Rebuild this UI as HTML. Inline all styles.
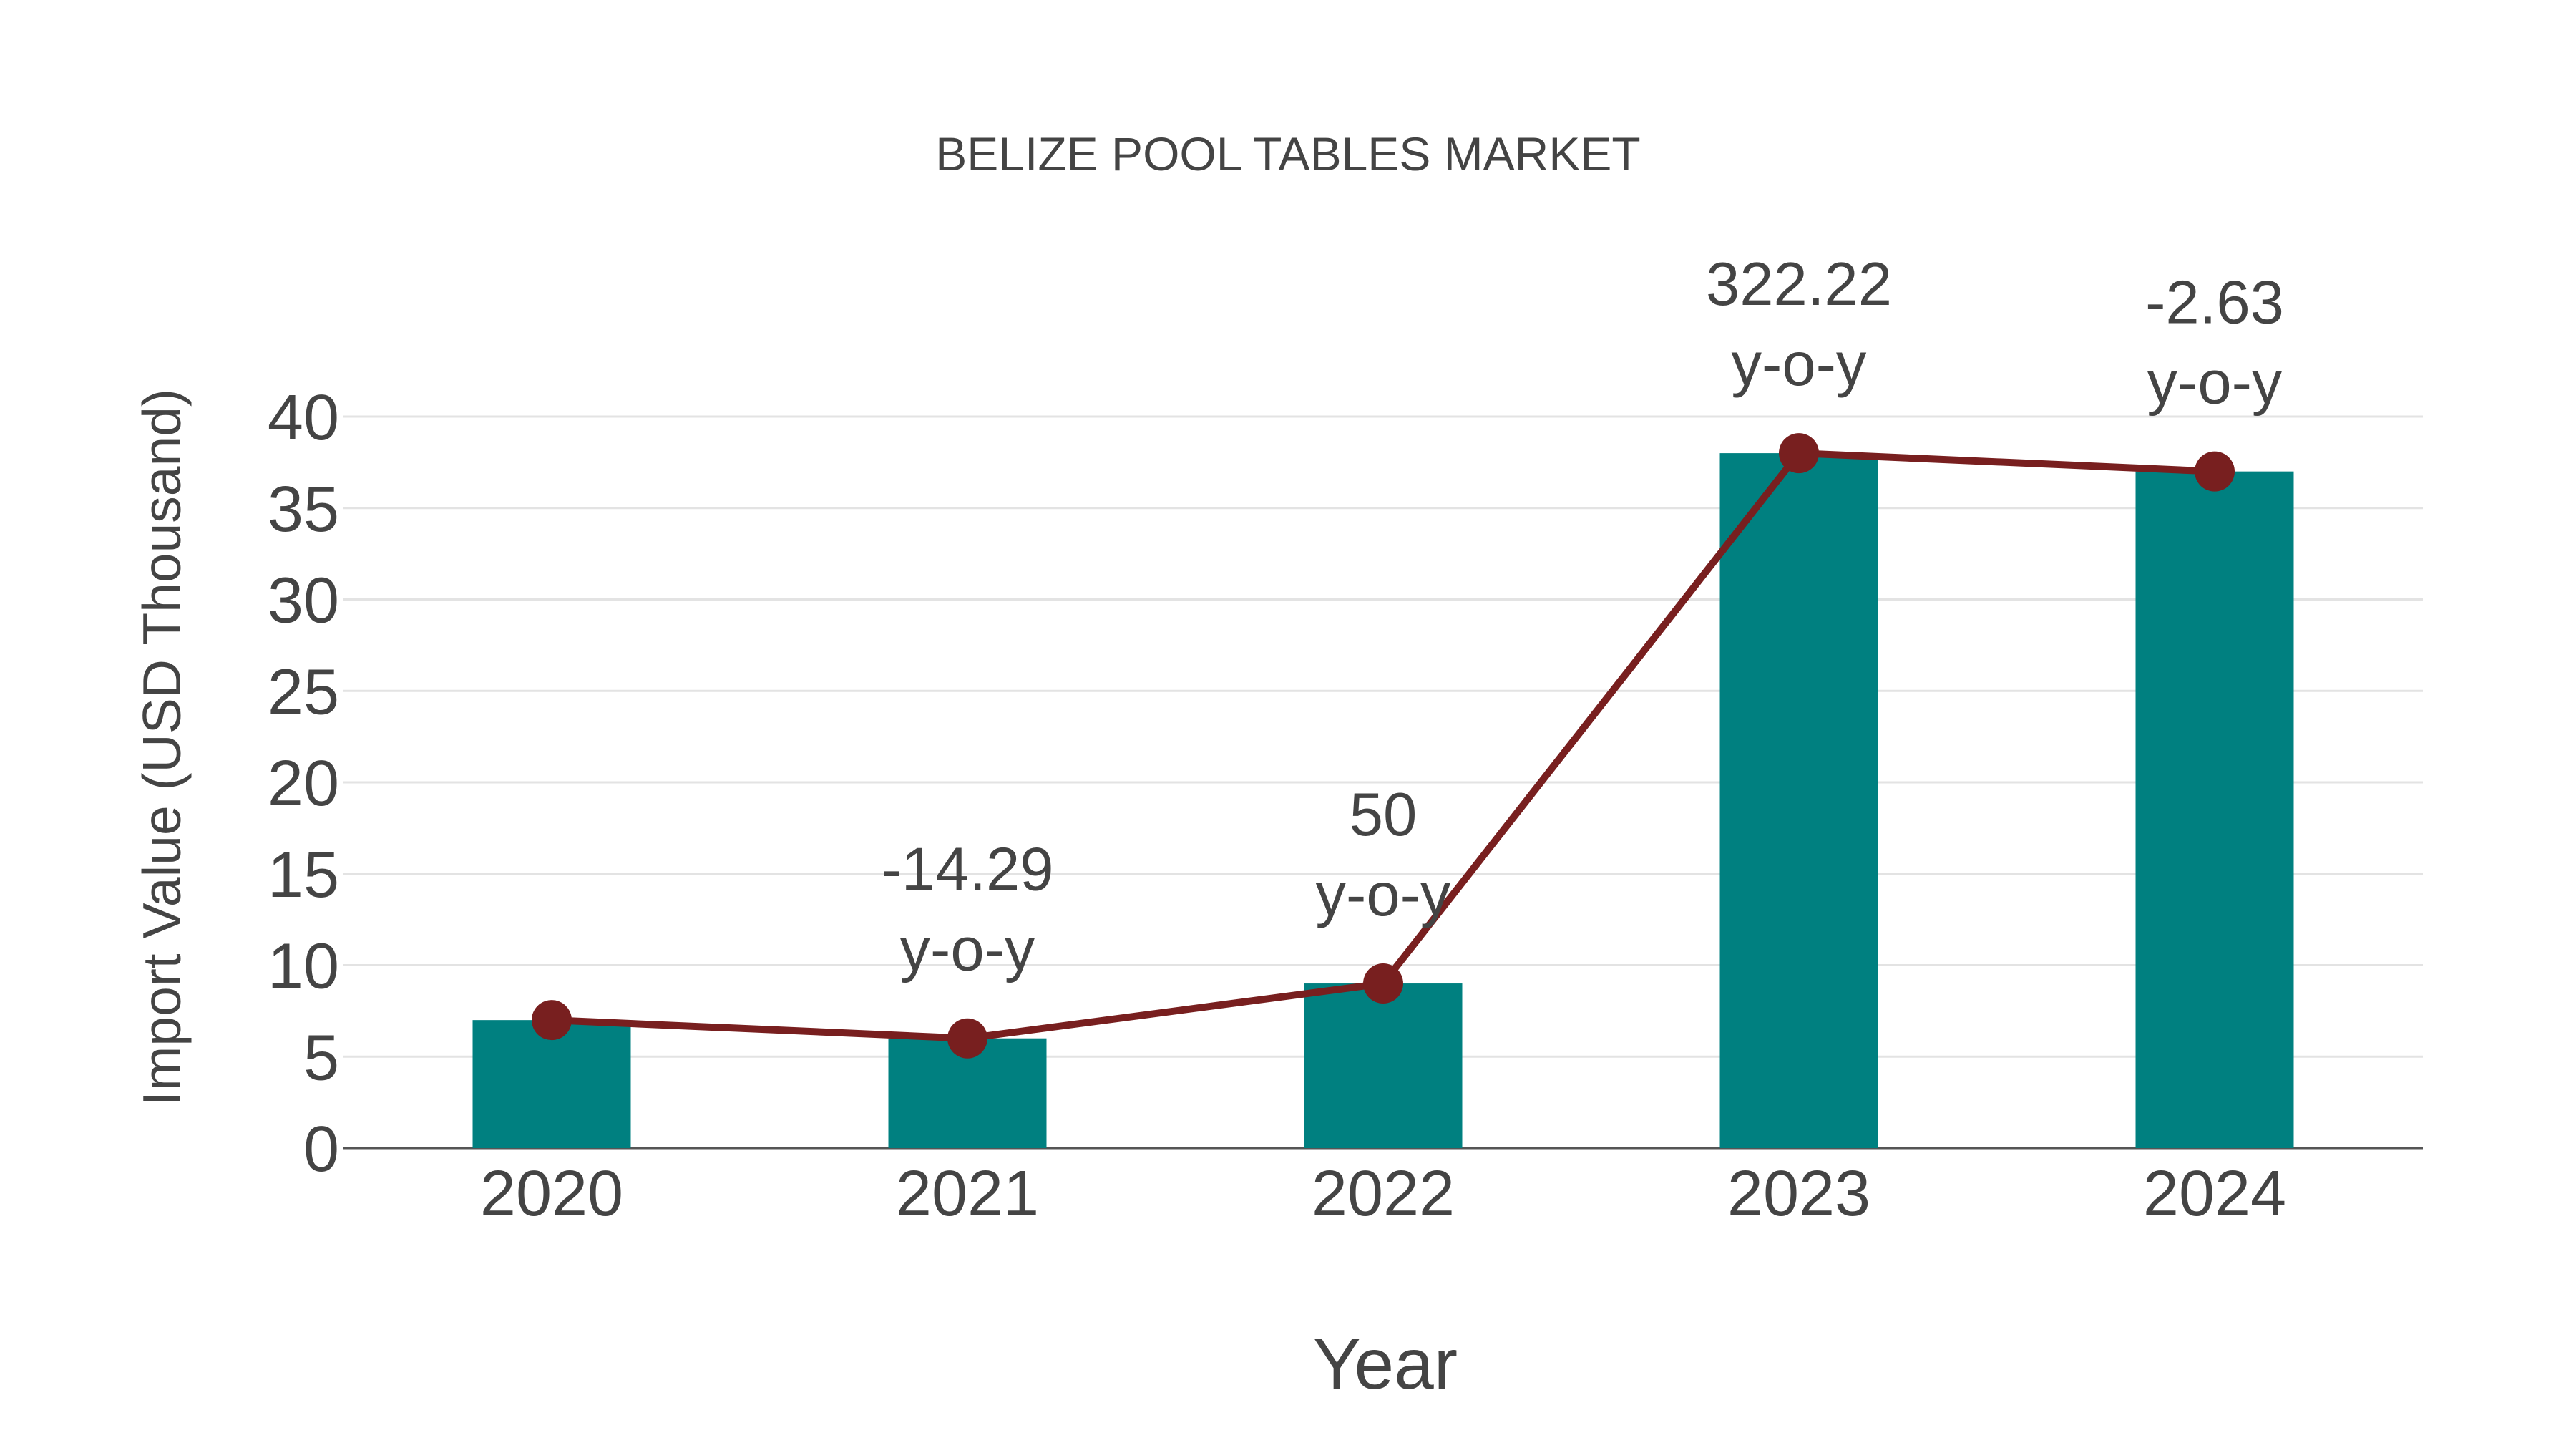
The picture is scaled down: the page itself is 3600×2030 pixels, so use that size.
<!DOCTYPE html>
<html><head><meta charset="utf-8"><style>
html,body{margin:0;padding:0;background:#fff;}
svg text{font-family:"Liberation Sans",sans-serif;fill:#444;}
</style></head><body>
<svg id="chart" width="3600" height="2025" xmlns="http://www.w3.org/2000/svg">
<text x="1800" y="238" font-size="66" text-anchor="middle">BELIZE POOL TABLES MARKET</text>
<text transform="translate(252,1044) rotate(-90)" font-size="75" text-anchor="middle">Import Value (USD Thousand)</text>
<text x="1936" y="1940" font-size="100" text-anchor="middle">Year</text>
<g id="grid"></g><g id="bars"></g><g id="line"></g><g id="labels"></g>
</svg>
<script>
const categories = ["2020","2021","2022","2023","2024"];
const values = [7, 6, 9, 38, 37];
const growthLabels = ["", "-14.29", "50", "322.22", "-2.63"];
const yTicks = [0,5,10,15,20,25,30,35,40];

const NS="http://www.w3.org/2000/svg";
const plotL=480, plotR=3386, y0=1604, pxPerUnit=25.55, step=581, firstX=771, barW=221;
const xPos=i=>firstX+i*step;
const yPos=v=>y0-v*pxPerUnit;
function mk(tag,attrs,parent,text){const e=document.createElementNS(NS,tag);for(const k in attrs)e.setAttribute(k,attrs[k]);if(text!==undefined)e.textContent=text;parent.appendChild(e);return e;}
const grid=document.getElementById('grid'),bars=document.getElementById('bars'),line=document.getElementById('line'),labels=document.getElementById('labels');
yTicks.forEach(t=>{
  if(t>0){const g=mk('line',{x1:plotL,x2:plotR,y1:yPos(t),y2:yPos(t),stroke:'#e3e3e3','stroke-width':3},grid);
  
  }
  const tl=mk('text',{x:474,y:yPos(t)+32,'font-size':90,'text-anchor':'end'},grid,String(t));
  
  
});
const ax=mk('line',{x1:plotL,x2:plotR,y1:y0,y2:y0,stroke:'#555','stroke-width':3},grid);


categories.forEach((c,i)=>{
  const b=mk('rect',{x:xPos(i)-barW/2,y:yPos(values[i]),width:barW,height:values[i]*pxPerUnit,fill:'#008080'},bars);
  
  
  const xl=mk('text',{x:xPos(i),y:1698,'font-size':90,'text-anchor':'middle'},labels,c);
  
  
});
const pts=values.map((v,i)=>xPos(i)+','+yPos(v)).join(' ');
const pl=mk('polyline',{points:pts,fill:'none',stroke:'#781f1f','stroke-width':10,'stroke-linejoin':'round'},line);


values.forEach((v,i)=>{
  const c=mk('circle',{cx:xPos(i),cy:yPos(v),r:28,fill:'#781f1f'},line);
  
  
  if(growthLabels[i]){
    const a=mk('text',{x:xPos(i),y:yPos(v)-207,'font-size':85,'text-anchor':'middle'},labels,growthLabels[i]);
    
    
    const b=mk('text',{x:xPos(i),y:yPos(v)-95,'font-size':85,'text-anchor':'middle'},labels,'y-o-y');
    
    
  }
});
</script>
</body></html>
